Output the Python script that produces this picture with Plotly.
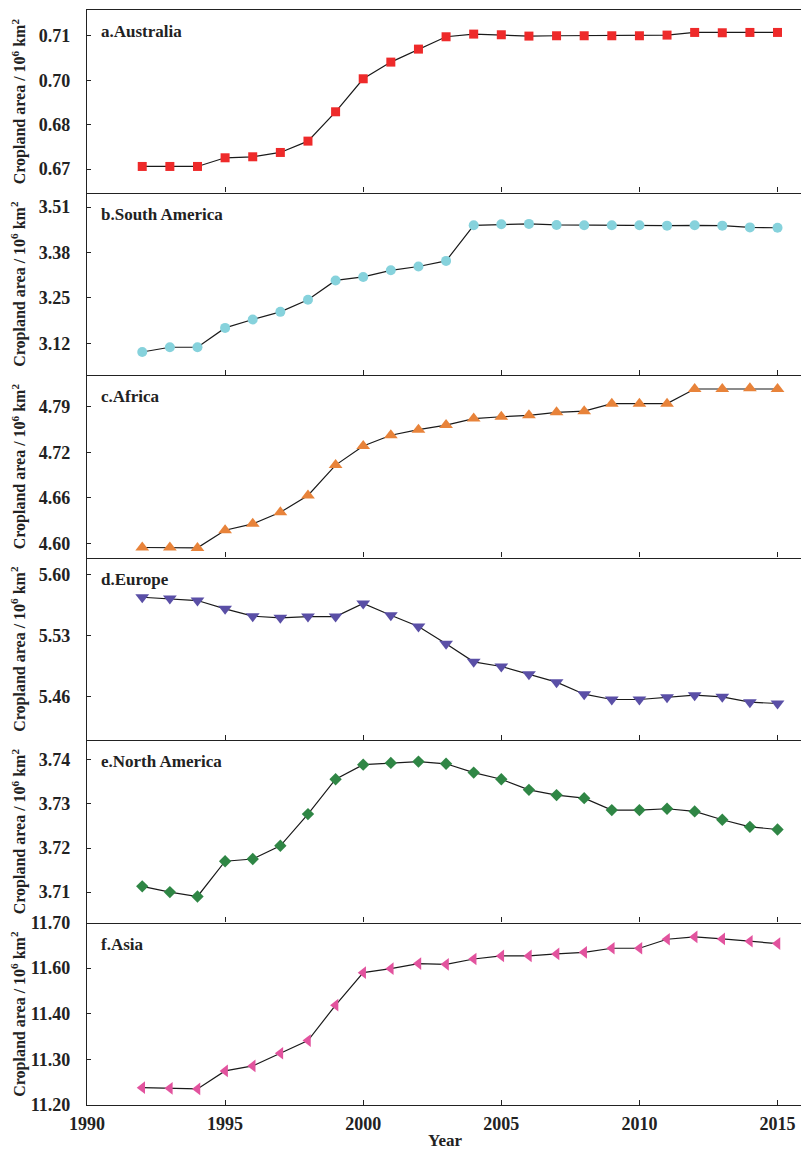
import plotly.graph_objects as go

years = list(range(1992, 2016))

australia = [0.6708, 0.6708, 0.6708, 0.6734, 0.6737, 0.6750, 0.6784, 0.6872, 0.6971, 0.7021,
             0.7060, 0.7097, 0.7105, 0.7103, 0.7099, 0.7100, 0.7100, 0.7100, 0.7100, 0.7102,
             0.7110, 0.7109, 0.7110, 0.7110]
south_america = [3.095, 3.1085, 3.1085, 3.164, 3.188, 3.210, 3.2445, 3.300, 3.310, 3.329,
                 3.340, 3.356, 3.458, 3.461, 3.462, 3.459, 3.458, 3.458, 3.458, 3.457,
                 3.458, 3.457, 3.452, 3.451]
africa = [4.5945, 4.5945, 4.594, 4.6182, 4.627, 4.6428, 4.666, 4.7076, 4.7339, 4.7486,
          4.7562, 4.7626, 4.7715, 4.774, 4.776, 4.780, 4.7817, 4.792, 4.792, 4.792,
          4.8121, 4.8121, 4.813, 4.8121]
europe = [5.5742, 5.5727, 5.5704, 5.5609, 5.5524, 5.5505, 5.552, 5.552, 5.567, 5.5535,
          5.5405, 5.5206, 5.4999, 5.4945, 5.4857, 5.4765, 5.4627, 5.4566, 5.4566, 5.4593,
          5.4616, 5.4597, 5.4535, 5.452]
north_america = [3.7113, 3.7100, 3.7090, 3.7170, 3.7175, 3.7205, 3.7277, 3.7356, 3.7389, 3.7393,
                 3.7396, 3.7391, 3.7371, 3.7356, 3.7332, 3.7320, 3.7313, 3.7286, 3.7286, 3.7289,
                 3.7283, 3.7264, 3.7248, 3.7242]
asia = [11.2475, 11.2456, 11.244, 11.2934, 11.3071, 11.3418, 11.3766, 11.4736, 11.5626, 11.5736,
        11.5874, 11.5855, 11.600, 11.6083, 11.6083, 11.6138, 11.6184, 11.6294, 11.6294, 11.6541,
        11.6605, 11.655, 11.6486, 11.6422]

panel_labels = ["a.Australia", "b.South America", "c.Africa", "d.Europe", "e.North America", "f.Asia"]
series = [australia, south_america, africa, europe, north_america, asia]
symbols = ["square", "circle", "triangle-up", "triangle-down", "diamond", "triangle-left"]
colors = ["#EE2A2A", "#86D2DC", "#E8833A", "#5A4FA6", "#2F8645", "#E2539E"]
sizes = [9, 10, 12, 12, 9.5, 11]

tick_vals = [
    [0.67, 0.683333, 0.696667, 0.71],
    [3.12, 3.25, 3.38, 3.51],
    [4.60, 4.6625, 4.725, 4.7875],
    [5.46, 5.53, 5.60],
    [3.71, 3.72, 3.73, 3.74],
    [11.2, 11.325, 11.45, 11.575, 11.7],
]
tick_text = [
    ["0.67", "0.68", "0.70", "0.71"],
    ["3.12", "3.25", "3.38", "3.51"],
    ["4.60", "4.66", "4.72", "4.79"],
    ["5.46", "5.53", "5.60"],
    ["3.71", "3.72", "3.73", "3.74"],
    ["11.20", "11.30", "11.40", "11.60", "11.70"],
]
y_ranges = [
    [0.66299, 0.71773],
    [3.029, 3.552],
    [4.5808, 4.8313],
    [5.41, 5.6199],
    [3.7031, 3.7445],
    [11.2, 11.7],
]
x_ticks = [1990, 1995, 2000, 2005, 2010, 2015]

FONT = "Liberation Serif"
W, H = 801, 1153
ML, MR, MT, MB = 87, 0, 10, 48
n = 6
fig = go.Figure()
annotations = []
layout = {}
for i in range(n):
    k = i + 1
    xa = "x" if k == 1 else f"x{k}"
    ya = "y" if k == 1 else f"y{k}"
    fig.add_trace(go.Scatter(
        x=years, y=series[i], mode="lines+markers",
        line=dict(color="#1a1a1a", width=1.2),
        marker=dict(symbol=symbols[i], size=sizes[i], color=colors[i], line=dict(width=0)),
        xaxis=xa, yaxis=ya, showlegend=False, cliponaxis=False))
    top = 1 - i / n
    bot = 1 - (i + 1) / n
    xkey = "xaxis" if k == 1 else f"xaxis{k}"
    ykey = "yaxis" if k == 1 else f"yaxis{k}"
    layout[xkey] = dict(
        domain=[0, 1], anchor=ya, range=[1990, 2015.85], automargin=False,
        tickvals=x_ticks, ticktext=[f"<b>{v}</b>" for v in x_ticks],
        showticklabels=(k == n), ticks="inside", ticklen=5, tickwidth=1.2, tickcolor="#222",
        showline=True, linecolor="#222", linewidth=1.4, mirror=(k == 1),
        showgrid=False, zeroline=False, ticklabelstandoff=2,
        tickfont=dict(family=FONT, size=18, color="#222"),
    )
    if k != 1:
        layout[xkey]["matches"] = "x"
    layout[ykey] = dict(
        domain=[bot, top], anchor=xa, range=y_ranges[i], automargin=False,
        tickvals=tick_vals[i], ticktext=[f"<b>{t}</b>" for t in tick_text[i]],
        ticks="inside", ticklen=4, tickwidth=1.2, tickcolor="#222",
        showline=True, linecolor="#222", linewidth=1.4,
        showgrid=False, zeroline=False, ticklabelstandoff=12,
        tickfont=dict(family=FONT, size=18, color="#222"),
    )
    annotations.append(dict(
        text=f"<b>{panel_labels[i]}</b>", xref="paper", yref="paper",
        x=(99 - ML) / (W - ML - MR), y=top - 22 / (H - MT - MB),
        xanchor="left", yanchor="middle", showarrow=False,
        font=dict(family=FONT, size=17, color="#222")))
    annotations.append(dict(
        text="<b>Cropland area / 10<sup>6</sup> km<sup>2</sup></b>", xref="paper", yref="paper",
        x=(19 - ML) / (W - ML - MR), y=(top + bot) / 2, textangle=-90,
        xanchor="center", yanchor="middle", showarrow=False,
        font=dict(family=FONT, size=16, color="#222")))

annotations.append(dict(
    text="<b>Year</b>", xref="paper", yref="paper",
    x=(445 - ML) / (W - ML - MR), y=-(1140 - (H - MB)) / (H - MT - MB),
    xanchor="center", yanchor="middle", showarrow=False,
    font=dict(family=FONT, size=17, color="#222")))

fig.update_layout(
    width=W, height=H, margin=dict(l=ML, r=MR, t=MT, b=MB, autoexpand=False),
    paper_bgcolor="white", plot_bgcolor="white",
    annotations=annotations, **layout)

fig.write_html("out.html", config={"displayModeBar": False},
               post_script="document.body.style.margin='0';document.body.style.overflow='hidden';")
